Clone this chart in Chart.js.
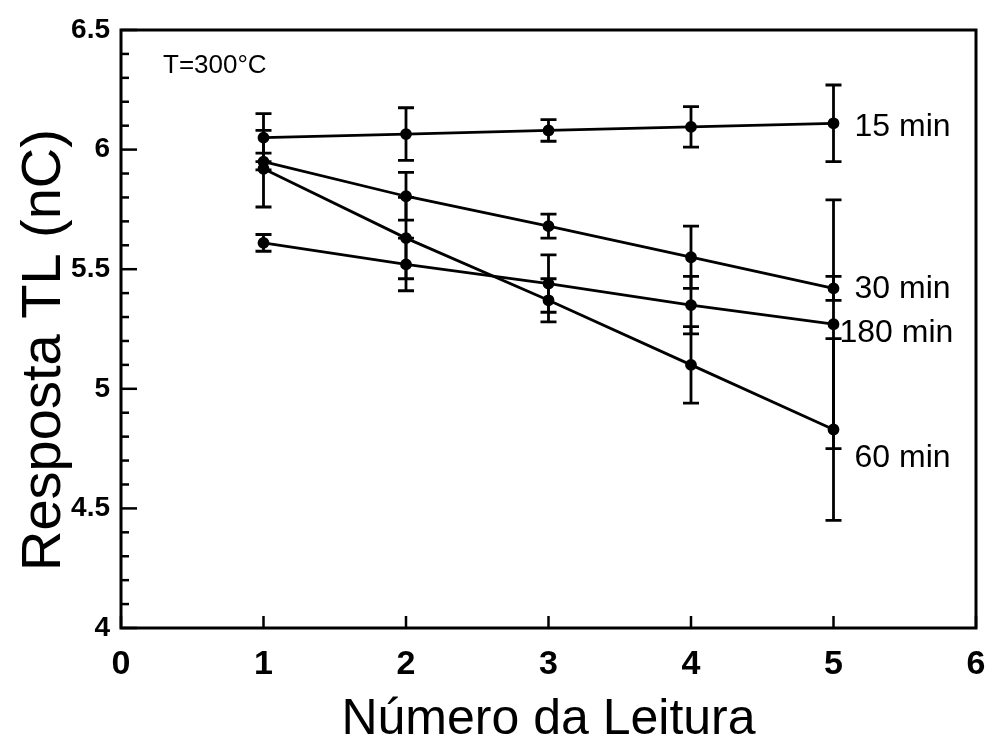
<!DOCTYPE html>
<html>
<head>
<meta charset="utf-8">
<script src="https://cdn.jsdelivr.net/npm/chart.js@4.4.1/dist/chart.umd.min.js"></script>
<style>
  html, body { margin: 0; padding: 0; background: #fff; }
  #wrap { width: 987px; height: 752px; }
</style>
</head>
<body>
<div id="wrap"><canvas id="tlChart" width="987" height="752"></canvas></div>
<script>
// leituras (eixo x)
const readings = [1, 2, 3, 4, 5];
const seriesNames = ['15 min', '30 min', '60 min', '180 min'];

// resposta TL (nC) e desvio de cada série
const tl15 = [6.05, 6.065, 6.08, 6.095, 6.11];
const err15 = [0.10, 0.11, 0.045, 0.085, 0.16];
const tl30 = [5.95, 5.805, 5.68, 5.55, 5.42];
const err30 = [0.035, 0.10, 0.05, 0.13, 0.05];
const tl60 = [5.92, 5.63, 5.37, 5.10, 4.83];
const err60 = [0.16, 0.17, 0.09, 0.16, 0.38];
const tl180 = [5.61, 5.52, 5.44, 5.35, 5.27];
const err180 = [0.035, 0.11, 0.12, 0.12, 0.52];

const xTicks = [0, 1, 2, 3, 4, 5, 6];
const yTicks = [4, 4.5, 5, 5.5, 6, 6.5];
const tempLabel = 'T=300°C';
const yTitle = 'Resposta TL (nC)';

const values = [tl15, tl30, tl60, tl180];
const errors = [err15, err30, err60, err180];

// deslocamento dos rótulos das séries em relação ao último ponto
const labelShift = [[21, 4], [21, 1], [21, 29], [6, 9]];

const fontFam = "'Liberation Sans', Arial, sans-serif";

function toPoints(arr){
    return readings.map((r, i) => ({x: r, y: arr[i]}));
}

const datasets = values.map((arr, i) => ({
    label: seriesNames[i],
    data: toPoints(arr),
    errs: errors[i],
    borderColor: '#000',
    backgroundColor: '#000',
    borderWidth: 2.8,
    pointRadius: 4.5,
    pointHoverRadius: 4.5,
    tension: 0
}));

// barras de erro, moldura, marcas internas e textos
const extras = {
    id: 'extras',
    afterDatasetsDraw(chart){
        const ctx = chart.ctx;
        const xs = chart.scales.x, ys = chart.scales.y;
        const a = chart.chartArea;
        ctx.save();
        ctx.strokeStyle = '#000';
        ctx.fillStyle = '#000';

        // barras de erro
        ctx.lineWidth = 2.8;
        chart.data.datasets.forEach(ds => {
            ds.data.forEach((p, i) => {
                const e = ds.errs[i];
                const px = xs.getPixelForValue(p.x);
                const top = ys.getPixelForValue(p.y + e);
                const bot = ys.getPixelForValue(p.y - e);
                ctx.beginPath();
                ctx.moveTo(px, top); ctx.lineTo(px, bot);
                ctx.moveTo(px - 8, top); ctx.lineTo(px + 8, top);
                ctx.moveTo(px - 8, bot); ctx.lineTo(px + 8, bot);
                ctx.stroke();
            });
        });

        // moldura
        ctx.lineWidth = 3;
        ctx.strokeRect(a.left, a.top, a.right - a.left, a.bottom - a.top);

        // marcas do eixo y (para dentro)
        ctx.lineWidth = 2.5;
        for (let v = 40; v <= 65; v++){
            const py = ys.getPixelForValue(v / 10);
            const len = v % 5 === 0 ? 16 : 8;
            ctx.beginPath();
            ctx.moveTo(a.left, py); ctx.lineTo(a.left + len, py);
            ctx.stroke();
        }
        // marcas do eixo x
        xTicks.forEach(t => {
            const px = xs.getPixelForValue(t);
            ctx.beginPath();
            ctx.moveTo(px, a.bottom); ctx.lineTo(px, a.bottom - 12);
            ctx.stroke();
        });

        // rótulos das séries
        ctx.font = '32px ' + fontFam;
        ctx.textBaseline = 'middle';
        ctx.textAlign = 'left';
        chart.data.datasets.forEach((ds, i) => {
            const last = ds.data[ds.data.length - 1];
            const px = xs.getPixelForValue(last.x) + labelShift[i][0];
            const py = ys.getPixelForValue(last.y) + labelShift[i][1];
            ctx.fillText(ds.label, px, py);
        });

        ctx.font = '26px ' + fontFam;
        ctx.fillText(tempLabel, a.left + 42, a.top + 36);

        // título do eixo y
        ctx.translate(60, (a.top + a.bottom) / 2 + 21);
        ctx.rotate(-Math.PI / 2);
        ctx.textAlign = 'center';
        ctx.textBaseline = 'alphabetic';
        ctx.font = '56px ' + fontFam;
        ctx.fillText(yTitle, 0, 0);
        ctx.restore();
    }
};

new Chart(document.getElementById('tlChart'), {
    type: 'line',
    data: { datasets: datasets },
    options: {
        responsive: false,
        animation: false,
        events: [],
        layout: { padding: { left: 0, right: 11, top: 30, bottom: 0 } },
        plugins: {
            legend: { display: false },
            tooltip: { enabled: false }
        },
        scales: {
            x: {
                type: 'linear',
                min: 0, max: 6,
                afterFit: s => { s.height = 124; s.paddingRight = 0; s.paddingLeft = 0; },
                afterBuildTicks: s => { s.ticks = xTicks.map(v => ({value: v})); },
                grid: { display: false },
                border: { display: false },
                ticks: {
                    color: '#000',
                    padding: 8,
                    font: { family: fontFam, size: 34, weight: 'bold' },
                    callback: v => String(v)
                },
                title: {
                    display: true,
                    text: 'Número da Leitura',
                    color: '#000',
                    padding: { top: 0, bottom: 2 },
                    font: { family: fontFam, size: 50 }
                }
            },
            y: {
                type: 'linear',
                min: 4, max: 6.5,
                afterFit: s => { s.width = 121; },
                afterBuildTicks: s => { s.ticks = yTicks.map(v => ({value: v})); },
                grid: { display: false },
                border: { display: false },
                ticks: {
                    color: '#000',
                    padding: 3,
                    font: { family: fontFam, size: 28, weight: 'bold' },
                    callback: v => String(v)
                }
            }
        }
    },
    plugins: [extras]
});
</script>
</body>
</html>
